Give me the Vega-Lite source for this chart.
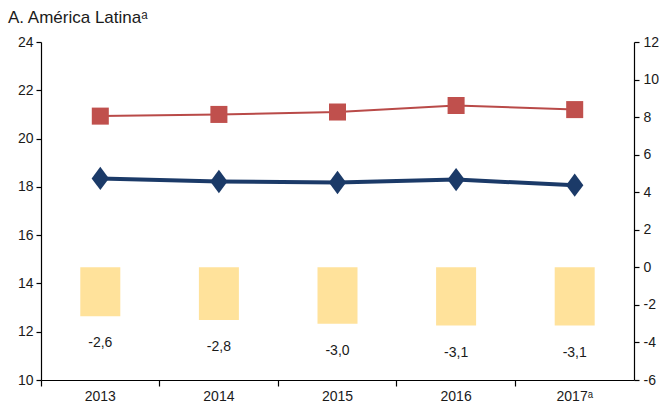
{
  "$schema": "https://vega.github.io/schema/vega-lite/v6.json",
  "width": 593,
  "height": 338,
  "autosize": {"type": "none"},
  "padding": {"left": 41, "top": 42, "right": 25, "bottom": 24},
  "title": {"text": "A. América Latinaᵃ", "anchor": "start", "frame": "group", "dx": -33, "offset": 8, "fontSize": 17, "fontWeight": "normal", "font": "Liberation Sans", "color": "#1a1a1a"},
  "config": {
    "font": "Liberation Sans",
    "view": {"stroke": null},
    "locale": {"number": {"decimal": ",", "thousands": ".", "grouping": [3], "currency": ["", ""], "minus": "-"}},
    "axis": {"labelFont": "Liberation Sans", "labelFontSize": 14, "labelColor": "#1a1a1a", "domainColor": "#000000", "tickColor": "#000000", "grid": false, "title": null, "tickSize": 5, "domainWidth": 1.2, "tickWidth": 1.2}
  },
  "data": {"values": [
    {"year": "2013", "deficit": -2.6, "red": 20.93, "blue": 18.35},
    {"year": "2014", "deficit": -2.8, "red": 21.0, "blue": 18.22},
    {"year": "2015", "deficit": -3.0, "red": 21.1, "blue": 18.18},
    {"year": "2016", "deficit": -3.1, "red": 21.37, "blue": 18.3},
    {"year": "2017ᵃ", "deficit": -3.1, "red": 21.2, "blue": 18.07}
  ]},
  "encoding": {
    "x": {"field": "year", "type": "ordinal", "sort": null, "scale": {"paddingInner": 0, "paddingOuter": 0},
      "axis": {"labelAngle": 0, "bandPosition": 0, "labelPadding": 3, "tickSize": 6}}
  },
  "layer": [
    {
      "encoding": {
        "y": {"field": "deficit", "type": "quantitative", "scale": {"domain": [-6, 12], "nice": false, "zero": false},
          "axis": {"orient": "right", "values": [-6, -4, -2, 0, 2, 4, 6, 8, 10, 12], "labelPadding": 4}}
      },
      "layer": [
        {"mark": {"type": "bar", "color": "#FFE29B", "width": 40}, "encoding": {"y2": {"datum": 0}}},
        {"mark": {"type": "text", "baseline": "middle", "dy": 27, "fontSize": 14, "color": "#1a1a1a"},
          "encoding": {"text": {"field": "deficit", "type": "quantitative", "format": ".1f"}}}
      ]
    },
    {
      "layer": [
        {"mark": {"type": "line", "color": "#B94A48", "strokeWidth": 2},
          "encoding": {"y": {"field": "red", "type": "quantitative", "scale": {"domain": [10, 24], "nice": false, "zero": false},
            "axis": {"orient": "left", "values": [10, 12, 14, 16, 18, 20, 22, 24], "labelPadding": 3}}}},
        {"mark": {"type": "point", "shape": "square", "filled": true, "opacity": 1, "color": "#C0504D", "size": 290},
          "encoding": {"y": {"field": "red", "type": "quantitative"}}},
        {"mark": {"type": "line", "color": "#1B3A68", "strokeWidth": 4},
          "encoding": {"y": {"field": "blue", "type": "quantitative"}}},
        {"mark": {"type": "point", "shape": "M0,-1.35L1,0L0,1.35L-1,0Z", "filled": true, "opacity": 1, "color": "#1B3A68", "size": 300},
          "encoding": {"y": {"field": "blue", "type": "quantitative"}}}
      ]
    }
  ],
  "resolve": {"scale": {"y": "independent"}}
}
